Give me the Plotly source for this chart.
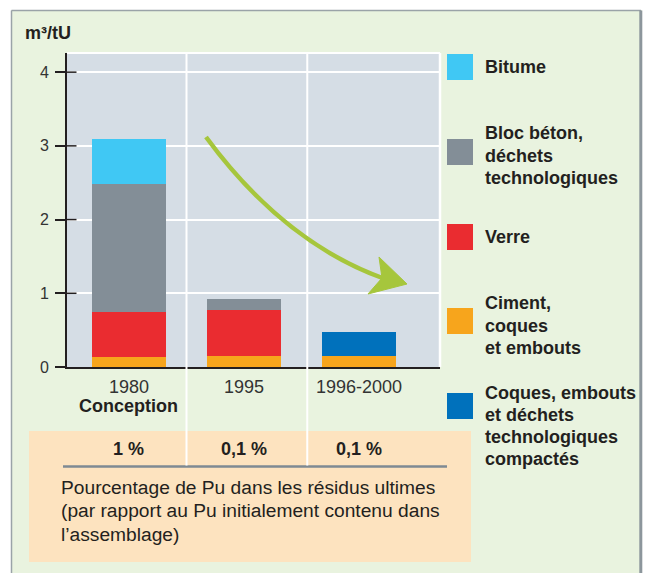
import plotly.graph_objects as go

# Volume of ultimate waste per tonne of uranium, by packaging type
categories = ["1980", "1995", "1996-2000"]
ciment = [0.14, 0.15, 0.15]        # Ciment, coques et embouts
verre = [0.61, 0.63, None]         # Verre
bloc_beton = [1.73, 0.14, None]    # Bloc béton, déchets technologiques
bitume = [0.62, None, None]        # Bitume
compactes = [None, None, 0.33]     # Coques, embouts et déchets technologiques compactés

# Share of Pu in ultimate residues
pu_share = ["1 %", "0,1 %", "0,1 %"]

y_ticks = [0, 1, 2, 3, 4]

series = [
    ("Ciment, coques et embouts", ciment, "#f7a51c"),
    ("Verre", verre, "#ea2c30"),
    ("Bloc béton, déchets technologiques", bloc_beton, "#838e97"),
    ("Bitume", bitume, "#40c8f4"),
    ("Coques, embouts et déchets technologiques compactés", compactes, "#0071bc"),
]

legend_entries = [
    ("#40c8f4", ["Bitume"]),
    ("#838e97", ["Bloc béton,", "déchets", "technologiques"]),
    ("#ea2c30", ["Verre"]),
    ("#f7a51c", ["Ciment,", "coques", "et embouts"]),
    ("#0071bc", ["Coques, embouts", "et déchets", "technologiques", "compactés"]),
]

W, H = 649, 573
L, R, T, B = 67, 440, 53, 367   # plot area in pixels

FONT = "Liberation Sans, Arial, Helvetica, sans-serif"
DARK = "#231f20"


def px(x):
    return (x - L) / (R - L)


def py(y):
    return (B - y) / (B - T)


fig = go.Figure()
for name, vals, color in series:
    fig.add_trace(go.Bar(
        x=categories, y=vals, name=name, width=0.643,
        marker=dict(color=color, line=dict(width=0)),
        showlegend=False,
    ))

shapes = []
annotations = []

# white page outside the framed panel
for x0, y0, x1, y1 in [(0, 0, W, 10), (0, 0, 11, H), (642, 0, W, H)]:
    shapes.append(dict(type="rect", xref="paper", yref="paper",
                       x0=px(x0), x1=px(x1), y0=py(y0), y1=py(y1),
                       fillcolor="white", line=dict(width=0), layer="below"))
# panel border
shapes.append(dict(type="line", xref="paper", yref="paper",
                   x0=px(11.5), x1=px(11.5), y0=py(10.5), y1=py(H + 5),
                   line=dict(color="#9aa3a8", width=1.5), layer="below"))
shapes.append(dict(type="line", xref="paper", yref="paper",
                   x0=px(11.5), x1=px(641), y0=py(10.5), y1=py(10.5),
                   line=dict(color="#9aa3a8", width=1.5), layer="below"))
shapes.append(dict(type="line", xref="paper", yref="paper",
                   x0=px(640.8), x1=px(640.8), y0=py(10.5), y1=py(H + 5),
                   line=dict(color="#8c969c", width=3), layer="below"))

# table box for Pu share
shapes.append(dict(type="rect", xref="paper", yref="paper",
                   x0=px(29), x1=px(471), y0=py(431), y1=py(562),
                   fillcolor="#fde3bf", line=dict(width=0), layer="below"))
shapes.append(dict(type="line", xref="paper", yref="paper",
                   x0=px(63), x1=px(447), y0=py(466.5), y1=py(466.5),
                   line=dict(color="#7e8a93", width=2.5), layer="below"))

# white border on top and right of the plot area
shapes.append(dict(type="line", xref="paper", yref="paper",
                   x0=0, x1=1, y0=1, y1=1, line=dict(color="white", width=2)))
shapes.append(dict(type="line", xref="paper", yref="paper",
                   x0=1, x1=1, y0=0, y1=1, line=dict(color="white", width=2.5)))

# column separators, running down into the table
for xs in [0.5, 1.55]:
    shapes.append(dict(type="line", xref="x", yref="paper",
                       x0=xs, x1=xs, y0=1, y1=py(465.5),
                       line=dict(color="white", width=2)))

# inner half of the crossing y ticks
for t in y_ticks[1:]:
    shapes.append(dict(type="line", xref="paper", yref="y",
                       x0=px(L), x1=px(76.5), y0=t, y1=t,
                       line=dict(color=DARK, width=1.5)))

# decreasing-trend arrow
def pt(x, y):
    return f"{px(x):.5f},{py(y):.5f}"

shapes.append(dict(type="path", xref="paper", yref="paper",
                   path=f"M{pt(206, 137)} Q{pt(284, 243)} {pt(385, 279)}",
                   line=dict(color="#a6c63c", width=4.5)))
shapes.append(dict(type="path", xref="paper", yref="paper",
                   path=f"M{pt(379, 257)} L{pt(407, 284)} L{pt(368, 294)} L{pt(382, 278)} Z",
                   fillcolor="#a6c63c", line=dict(color="#a6c63c", width=1)))

# legend
legend_tops = [54, 139, 224, 308, 393]
line_centers = [[66.5], [133, 155.5, 177.5], [237.5], [303, 325.5, 347.5],
                [392.5, 415, 437, 459]]
for (color, lines), top, centers in zip(legend_entries, legend_tops, line_centers):
    shapes.append(dict(type="rect", xref="paper", yref="paper",
                       x0=px(447), x1=px(473), y0=py(top), y1=py(top + 26),
                       fillcolor=color, line=dict(width=0)))
    for text, yc in zip(lines, centers):
        annotations.append(dict(xref="paper", yref="paper", x=px(483), y=py(yc),
                                text=f"<b>{text}</b>", showarrow=False,
                                xanchor="left", yanchor="middle",
                                font=dict(family=FONT, size=18, color=DARK)))

# unit label
annotations.append(dict(xref="paper", yref="paper", x=px(23), y=py(33),
                        text="<b>m³/tU</b>", showarrow=False,
                        xanchor="left", yanchor="middle",
                        font=dict(family=FONT, size=18, color=DARK)))

# second line under the first category
annotations.append(dict(xref="x", yref="paper", x=0, y=py(406),
                        text="<b>Conception</b>", showarrow=False,
                        xanchor="center", yanchor="middle",
                        font=dict(family=FONT, size=18, color=DARK)))

# Pu share row (placed by category index)
for i, share in enumerate(pu_share):
    annotations.append(dict(xref="x", yref="paper", x=i, y=py(449),
                            text=f"<b>{share}</b>", showarrow=False,
                            xanchor="center", yanchor="middle",
                            font=dict(family=FONT, size=18, color=DARK)))

desc_lines = ["Pourcentage de Pu dans les résidus ultimes",
              "(par rapport au Pu initialement contenu dans",
              "l’assemblage)"]
for text, yc in zip(desc_lines, [487, 510.5, 534]):
    annotations.append(dict(xref="paper", yref="paper", x=px(59), y=py(yc),
                            text=text, showarrow=False,
                            xanchor="left", yanchor="middle",
                            font=dict(family=FONT, size=19.2, color=DARK)))

fig.update_layout(
    template="none",
    width=W, height=H,
    margin=dict(l=L, r=W - R, t=T, b=H - B, pad=0),
    paper_bgcolor="#e9f3df",
    plot_bgcolor="#d5dde5",
    barmode="stack",
    showlegend=False,
    shapes=shapes,
    annotations=annotations,
    xaxis=dict(
        type="category", range=[-0.539, 2.704], automargin=False,
        showgrid=False, zeroline=False,
        showline=True, linecolor=DARK, linewidth=2,
        ticks="", ticklabelstandoff=2,
        tickfont=dict(family=FONT, size=18, color="#333333"),
        fixedrange=True,
    ),
    yaxis=dict(
        range=[0, 4.26], automargin=False,
        tickvals=y_ticks,
        showgrid=True, gridcolor="white", gridwidth=2,
        zeroline=False,
        showline=True, linecolor=DARK, linewidth=2,
        ticks="outside", ticklen=10, tickwidth=1.5, tickcolor=DARK,
        ticklabelstandoff=3,
        tickfont=dict(family=FONT, size=16, color="#333333"),
        fixedrange=True,
    ),
)

fig.write_html("out.html")
